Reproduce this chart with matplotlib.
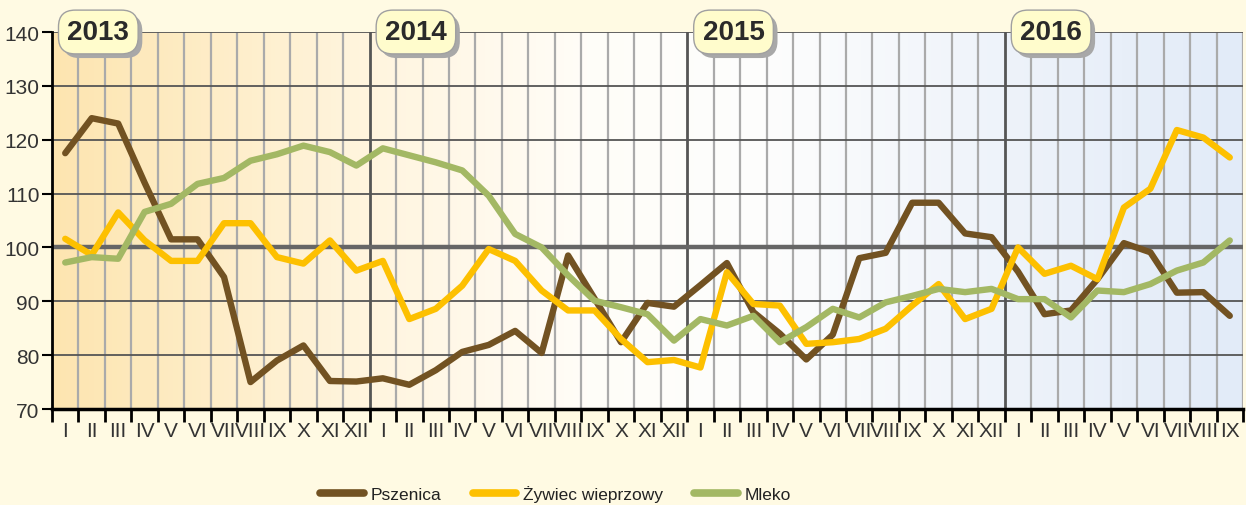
import matplotlib.pyplot as plt
import numpy as np
from matplotlib.colors import LinearSegmentedColormap
import matplotlib.patheffects as pe

plt.rcParams['font.family'] = ['Liberation Sans', 'DejaVu Sans']

# data
years = ["2013", "2014", "2015", "2016"]
months = ["I", "II", "III", "IV", "V", "VI", "VII", "VIII", "IX", "X", "XI", "XII"]
month_labels = months * 3 + months[:9]

pszenica = [117.5, 124.0, 123.0, 112.0, 101.5, 101.5, 94.5, 75.0, 79.0, 81.8, 75.2, 75.1,
            75.7, 74.5, 77.2, 80.6, 81.9, 84.5, 80.4, 98.5, 90.5, 82.4, 89.7, 89.0,
            93.0, 97.1, 88.0, 84.0, 79.2, 83.8, 98.0, 99.0, 108.3, 108.3, 102.6, 101.9,
            95.5, 87.6, 88.3, 94.1, 100.8, 99.1, 91.6, 91.7, 87.3]
zywiec = [101.6, 98.6, 106.5, 101.3, 97.5, 97.5, 104.5, 104.5, 98.2, 97.0, 101.3, 95.7,
          97.5, 86.7, 88.6, 92.9, 99.7, 97.5, 92.0, 88.3, 88.3, 83.0, 78.7, 79.1,
          77.7, 95.4, 89.5, 89.2, 82.1, 82.4, 83.0, 84.9, 89.2, 93.2, 86.7, 88.6,
          100.0, 95.1, 96.6, 94.1, 107.4, 110.9, 121.8, 120.4, 116.7]
mleko = [97.2, 98.2, 97.9, 106.6, 108.1, 111.8, 112.9, 116.1, 117.3, 118.9, 117.7, 115.2,
         118.4, 117.1, 115.8, 114.3, 109.6, 102.5, 100.0, 94.8, 90.1, 88.9, 87.6, 82.7,
         86.7, 85.5, 87.3, 82.4, 85.2, 88.6, 87.0, 89.8, 91.0, 92.3, 91.7, 92.3,
         90.4, 90.4, 87.0, 92.0, 91.7, 93.2, 95.7, 97.2, 101.3]

x = np.arange(len(pszenica))

fig = plt.figure(figsize=(12.46, 5.06), dpi=100, facecolor="#fffae3")
ax = fig.add_axes([52 / 1246, 1 - 410 / 506, 1191 / 1246, 377 / 506])
ax.set_xlim(-0.5, len(x) - 0.5)
ax.set_ylim(70, 140)

# background gradient
cmap = LinearSegmentedColormap.from_list(
    "bg", [(0, "#fde5b0"), (0.25, "#fff4dc"), (0.45, "#fffdf8"),
           (0.6, "#fdfdfd"), (0.8, "#eef3fa"), (1, "#e2ebf8")])
ax.imshow(np.linspace(0, 1, 256).reshape(1, -1), cmap=cmap, aspect="auto",
          extent=[0, 1, 0, 1], transform=ax.transAxes, zorder=0)

# grid
for b in np.arange(-0.5, len(x), 1):
    if (b + 0.5) % 12 == 0 and b > 0:
        ax.axvline(b, color="#555555", lw=2, zorder=1)
    else:
        ax.axvline(b, color="#aaaaaa", lw=1.6, zorder=1)
for v in range(80, 141, 10):
    if v == 100:
        ax.axhline(v, color="#666666", lw=3.2, zorder=1)
    else:
        ax.axhline(v, color="#555555", lw=1.3, zorder=1)

# curves
ax.plot(x, pszenica, color="#725222", lw=4.6, solid_capstyle="round",
        solid_joinstyle="round", label="Pszenica", zorder=3)
ax.plot(x, zywiec, color="#fdc000", lw=4.6, solid_capstyle="round",
        solid_joinstyle="round", label="Żywiec wieprzowy", zorder=3)
ax.plot(x, mleko, color="#a3b864", lw=4.6, solid_capstyle="round",
        solid_joinstyle="round", label="Mleko", zorder=3)

# axes
for s in ["top", "right"]:
    ax.spines[s].set_visible(False)
ax.spines["left"].set_linewidth(2)
ax.spines["bottom"].set_linewidth(2.5)
ax.spines["left"].set_zorder(4)
ax.spines["bottom"].set_zorder(4)

ax.set_yticks(range(70, 141, 10))
ax.tick_params(axis="y", length=7, width=1.5, pad=2, labelsize=15,
               labelcolor="#333333")
ax.set_xticks(np.arange(-0.5, len(x), 1))
ax.set_xticklabels([])
ax.tick_params(axis="x", which="major", length=9, width=2)
ax.set_xticks(x, minor=True)
ax.set_xticklabels(month_labels, minor=True)
ax.tick_params(axis="x", which="minor", length=0, pad=9, labelsize=15,
               labelcolor="#333333")

# year labels
for i, yr in enumerate(years):
    t = ax.text(12 * i + 1.25, 140, yr, ha="center", va="center", fontsize=20,
                fontweight="bold", color="#2a2a2a", zorder=6,
                bbox=dict(boxstyle="round,pad=0.32,rounding_size=0.6",
                          fc="#fffccc", ec="#a0a0a0", lw=1))
    t.get_bbox_patch().set_path_effects([
        pe.SimplePatchShadow(offset=(3, -3), shadow_rgbFace="#a8a8a8", alpha=1),
        pe.Normal()])

# legend
leg = fig.legend(loc="center", bbox_to_anchor=(0.446, 0.022), ncol=3,
                 frameon=False, fontsize=12.5, handlelength=2.5,
                 handletextpad=0.4, columnspacing=1.8, labelcolor="#222222")
for h in leg.get_lines():
    h.set_linewidth(5.5)

plt.savefig("out.png", dpi=100, facecolor=fig.get_facecolor())
